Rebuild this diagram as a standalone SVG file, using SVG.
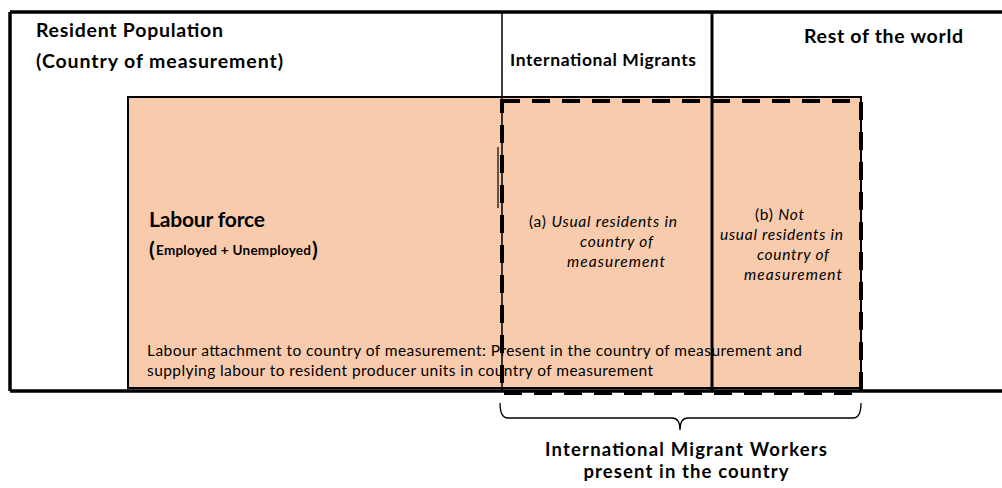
<svg xmlns="http://www.w3.org/2000/svg" width="1002" height="488" viewBox="0 0 1002 488">
<style>
.t{font-family:Lato,"Liberation Sans",Arial,sans-serif;fill:#000}
.b{font-weight:bold}
.i{font-style:italic}
.ln{stroke:#000;fill:none}
</style>
<rect x="0" y="0" width="1002" height="488" fill="#fff"/>
<g id="frame">
<path class="ln" d="M10,12 H1002 M10,12 V391 M10,391 H1002" stroke-width="3.5"/>
<text class="t b" x="36" y="37" font-size="19.5" textLength="187">Resident Population</text>
<text class="t b" x="36" y="68" font-size="19.5" textLength="247">(Country of measurement)</text>
<text class="t b" x="804" y="43" font-size="19.5" textLength="159">Rest of the world</text>
<text class="t b" x="510" y="66" font-size="17.5" textLength="186">International Migrants</text>
</g>
<g id="labour-force">
<rect x="128" y="97" width="733" height="291" fill="#F8CBAD" stroke="#000" stroke-width="2"/>
<text class="t b" x="149" y="227" font-size="21" textLength="116">Labour force</text>
<text class="t b" x="149" y="257" font-size="21">(<tspan font-size="13.5" x="156" y="255" textLength="155">Employed + Unemployed</tspan><tspan x="312" y="257">)</tspan></text>
<text class="t" x="147" y="356" font-size="15.5" textLength="655">Labour attachment to country of measurement: Present in the country of measurement and</text>
<text class="t" x="147" y="376" font-size="15.5" textLength="506">supplying labour to resident producer units in country of measurement</text>
</g>
<g id="usual-residents">
<text class="t" x="529" y="227" font-size="15.5" textLength="148">(a) <tspan class="i">Usual residents in</tspan></text>
<text class="t i" x="580" y="247" font-size="15.5" textLength="73">country of</text>
<text class="t i" x="567" y="267" font-size="15.5" textLength="98">measurement</text>
</g>
<g id="not-usual-residents">
<text class="t" x="755" y="220" font-size="15.5" textLength="49">(b) <tspan class="i">Not</tspan></text>
<text class="t i" x="720" y="240" font-size="15.5" textLength="123">usual residents in</text>
<text class="t i" x="757" y="260" font-size="15.5" textLength="72">country of</text>
<text class="t i" x="744" y="280" font-size="15.5" textLength="98">measurement</text>
</g>
<g id="connectors">
<line class="ln" x1="498" y1="147" x2="498" y2="208" stroke="#9aa7b5" stroke-width="1.2"/>
<line class="ln" x1="502" y1="12" x2="502" y2="391" stroke-width="1.5"/>
<line class="ln" x1="712" y1="12" x2="712" y2="391" stroke-width="3"/>
</g>
<g id="migrant-workers">
<rect x="502" y="101" width="359" height="292" fill="none" stroke="#000" stroke-width="4" stroke-dasharray="18 12"/>
<path class="ln" d="M500,403 Q500,418 508,418 H672 Q680,418 680,430 M680,430 Q680,418 688,418 H853 Q861,418 861,403" stroke="#333" stroke-width="1.3"/>
<text class="t b" x="686" y="456" font-size="18.5" text-anchor="middle" textLength="282">International Migrant Workers</text>
<text class="t b" x="686" y="478" font-size="18.5" text-anchor="middle" textLength="205">present in the country</text>
</g>
</svg>
